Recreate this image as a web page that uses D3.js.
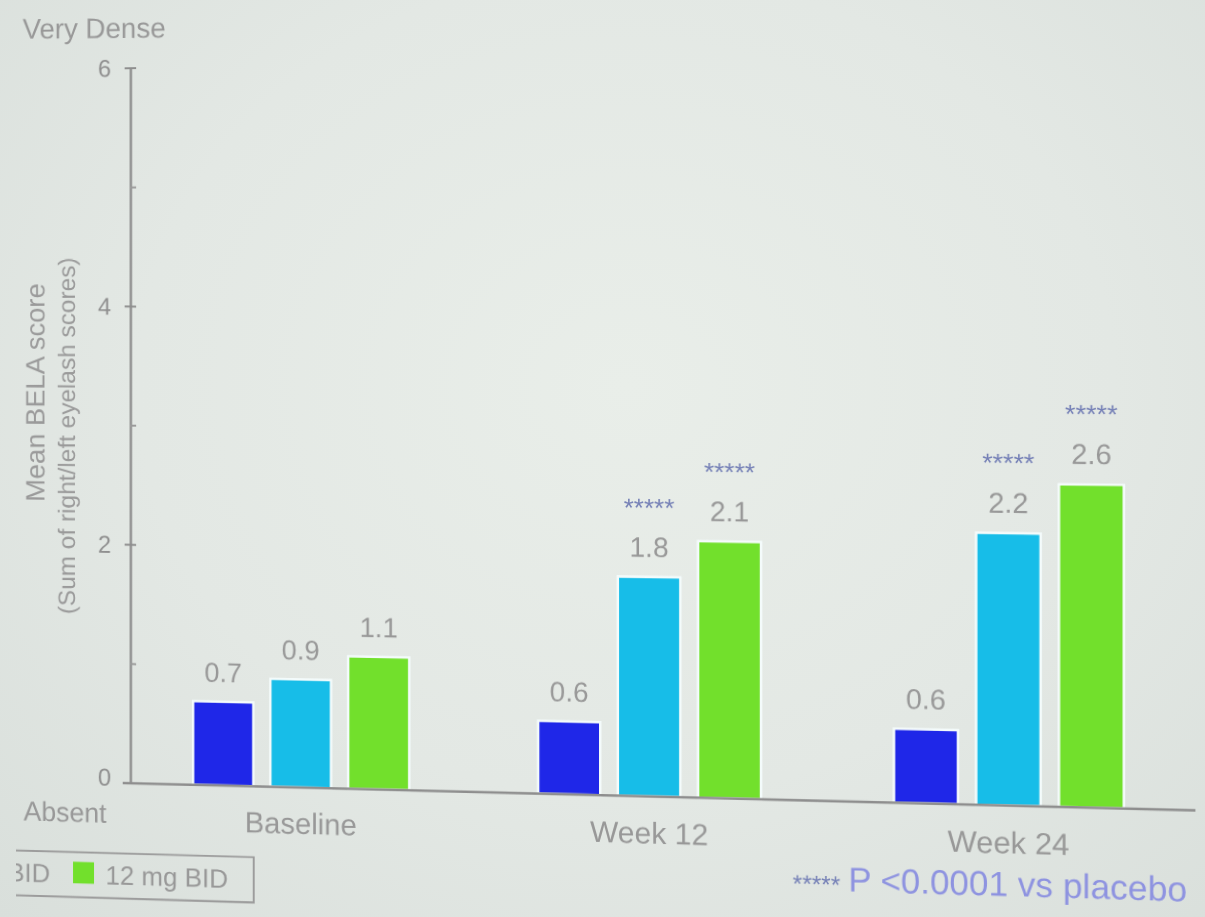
<!DOCTYPE html>
<html>
<head>
<meta charset="utf-8">
<script src="https://cdn.jsdelivr.net/npm/d3@7"></script>
<style>
  html, body { margin: 0; padding: 0; width: 1205px; height: 917px; overflow: hidden; }
  body {
    background: radial-gradient(ellipse at 52% 42%, #e9eee9 0%, #e3e8e4 55%, #d9dfdb 100%);
  }
  svg {
    display: block;
    transform-origin: 50% 50%;
    transform: perspective(1000px) rotateY(-2.5deg);
  }
  text { font-family: "Liberation Sans", Arial, sans-serif; }
</style>
</head>
<body>
<svg id="chart" width="1205" height="917"></svg>
<script>
// Mean BELA score by visit and treatment arm
const timepoints = ["Baseline", "Week 12", "Week 24"];
const treatments = ["Placebo", "8 mg BID", "12 mg BID"];
const placebo = [0.7, 0.6, 0.6];
const bid8 = [0.9, 1.8, 2.2];
const bid12 = [1.1, 2.1, 2.6];
// P < 0.0001 vs placebo flags, per visit
const sig8 = [false, true, true];
const sig12 = [false, true, true];
const yMajorTicks = [0, 2, 4, 6];
const yMinorTicks = [1, 3, 5];
const yTitleLines = ["Mean BELA score", "(Sum of right/left eyelash scores)"];
const yTopLabel = "Very Dense";
const yBottomLabel = "Absent";
const starMark = "*****";
const footnote = "P <0.0001 vs placebo";

const colors = { "Placebo": "#1f27e8", "8 mg BID": "#17bde8", "12 mg BID": "#72e02c" };
const textGrey = "#989898";

const seriesValues = { "Placebo": placebo, "8 mg BID": bid8, "12 mg BID": bid12 };
const seriesSig = { "Placebo": [false, false, false], "8 mg BID": sig8, "12 mg BID": sig12 };

const rows = [];
timepoints.forEach((tp, i) => {
  treatments.forEach(tr => {
    rows.push({ tp, tr, value: seriesValues[tr][i], sig: seriesSig[tr][i] });
  });
});

// plot geometry
const axisX = 120, xEnd = 1178;
const baseY = 790, topY = 60;
const skew = 0.0108;

const svg = d3.select("#chart");
const g = svg.append("g")
  .attr("transform", `matrix(1,${skew},0,1,0,${-skew * axisX})`);

const y = d3.scaleLinear().domain([0, 6]).range([baseY, topY]);
const x0 = d3.scaleBand().domain(timepoints).range([axisX, xEnd])
  .paddingInner(0.37).paddingOuter(0.185);
const x1 = d3.scaleBand().domain(treatments).range([0, x0.bandwidth()])
  .paddingInner(0.22);

// bars
const groups = g.selectAll("g.group").data(timepoints).join("g")
  .attr("class", "group")
  .attr("transform", d => `translate(${x0(d)},0)`);

groups.selectAll("rect").data(tp => rows.filter(r => r.tp === tp)).join("rect")
  .attr("x", d => x1(d.tr))
  .attr("y", d => y(d.value))
  .attr("width", x1.bandwidth())
  .attr("height", d => y(0) - y(d.value))
  .attr("fill", d => colors[d.tr])
  .attr("stroke", "#f4fbfb")
  .attr("stroke-width", 2.5);

// value labels
groups.selectAll("text.val").data(tp => rows.filter(r => r.tp === tp)).join("text")
  .attr("class", "val")
  .attr("x", d => x1(d.tr) + x1.bandwidth() / 2)
  .attr("y", d => y(d.value) - 20)
  .attr("text-anchor", "middle")
  .attr("font-size", 28)
  .attr("fill", textGrey)
  .text(d => d.value.toFixed(1));

// significance marks
groups.selectAll("text.sig").data(tp => rows.filter(r => r.tp === tp && r.sig)).join("text")
  .attr("class", "sig")
  .attr("x", d => x1(d.tr) + x1.bandwidth() / 2)
  .attr("y", d => y(d.value) - 60)
  .attr("text-anchor", "middle")
  .attr("font-size", 26)
  .attr("fill", "#7580b6")
  .text(starMark);

// x axis baseline
g.append("line")
  .attr("x1", axisX - 8).attr("x2", xEnd + 3)
  .attr("y1", y(0)).attr("y2", y(0))
  .attr("stroke", "#8e8e8e").attr("stroke-width", 2.5);

// category labels
g.append("g").selectAll("text").data(timepoints).join("text")
  .attr("x", d => x0(d) + x0.bandwidth() / 2)
  .attr("y", y(0) + 47)
  .attr("text-anchor", "middle")
  .attr("font-size", 30)
  .attr("fill", textGrey)
  .text(d => d);

// y axis
const yAxis = g.append("g")
  .attr("transform", `translate(${axisX},0)`)
  .call(d3.axisLeft(y).tickValues(yMajorTicks).tickFormat(d3.format("d"))
    .tickSize(0).tickSizeOuter(0).tickPadding(20));
yAxis.select(".domain").attr("stroke", "#8e8e8e").attr("stroke-width", 2.5);
yAxis.selectAll(".tick text")
  .attr("font-size", 25)
  .attr("fill", "#8f8f8f")
  .attr("font-family", "Liberation Sans, Arial, sans-serif");
// the zero label sits a little higher, clear of the "Absent" caption
yAxis.selectAll(".tick").filter(d => d === 0).select("text").attr("dy", "0.1em");

yAxis.selectAll("line.major").data(yMajorTicks.filter(v => v > 0)).join("line")
  .attr("class", "major")
  .attr("x1", -6).attr("x2", 6)
  .attr("y1", d => y(d)).attr("y2", d => y(d))
  .attr("stroke", "#8e8e8e").attr("stroke-width", 2);
yAxis.selectAll("line.minor").data(yMinorTicks).join("line")
  .attr("class", "minor")
  .attr("x1", 0).attr("x2", 6)
  .attr("y1", d => y(d)).attr("y2", d => y(d))
  .attr("stroke", "#9a9a9a").attr("stroke-width", 2);

// scale end labels
g.append("text").attr("x", 7).attr("y", 29)
  .attr("font-size", 29).attr("fill", textGrey).text(yTopLabel);
g.append("text").attr("x", 8).attr("y", y(0) + 41)
  .attr("font-size", 28).attr("fill", textGrey).text(yBottomLabel);

// y title
const titleSpecs = [
  { text: yTitleLines[0], x: 30, cy: 392, size: 28 },
  { text: yTitleLines[1], x: 62, cy: 436, size: 25 }
];
titleSpecs.forEach(t => {
  g.append("text")
    .attr("transform", `translate(${t.x},${t.cy}) rotate(-90)`)
    .attr("text-anchor", "middle")
    .attr("font-size", t.size)
    .attr("fill", "#9a9a9a")
    .text(t.text);
});

// legend (left part runs past the page edge)
const legend = g.append("g");
const sq = 22, sqGap = 12, itemGap = 24;
let cursor = 0;
const items = treatments.map(tr => {
  const item = legend.append("g").attr("transform", `translate(${cursor},0)`);
  item.append("rect").attr("x", 0).attr("y", 872).attr("width", sq).attr("height", sq)
    .attr("fill", colors[tr]);
  const t = item.append("text").attr("x", sq + sqGap).attr("y", 894)
    .attr("font-size", 27).attr("fill", textGrey).text(tr);
  const pos = cursor;
  cursor += sq + sqGap + t.node().getComputedTextLength() + itemGap;
  return pos;
});
const shift = 60 - items[items.length - 1];
legend.attr("transform", `translate(${shift},0)`);
const boxRight = 248 - shift;
legend.insert("rect", ":first-child")
  .attr("x", -16).attr("y", 862)
  .attr("width", boxRight + 16).attr("height", 46)
  .attr("fill", "none").attr("stroke", "#9c9c9c").attr("stroke-width", 2);

// footnote
g.append("text").attr("x", 838).attr("y", 881)
  .attr("text-anchor", "end").attr("font-size", 24).attr("fill", "#7580b6")
  .text(starMark);
g.append("text").attr("x", 846).attr("y", 879)
  .attr("font-size", 34).attr("fill", "#8e93e0")
  .text(footnote);
</script>
</body>
</html>
